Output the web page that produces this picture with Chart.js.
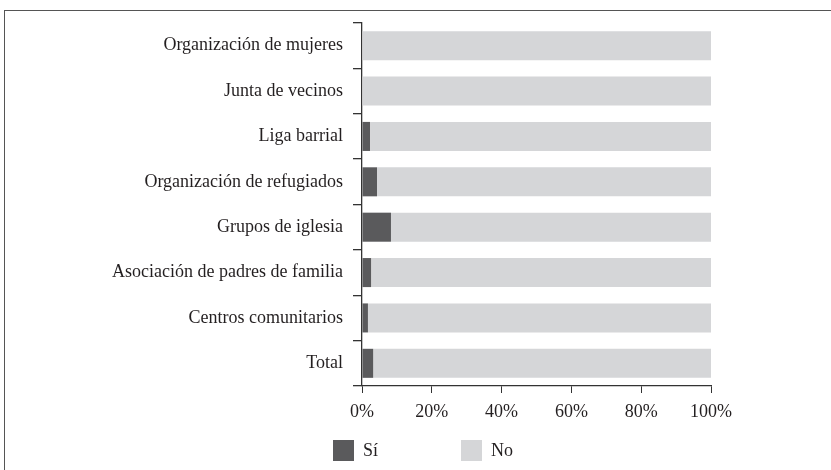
<!DOCTYPE html>
<html>
<head>
<meta charset="utf-8">
<script src="https://cdn.jsdelivr.net/npm/chart.js@4.4.1/dist/chart.umd.min.js"></script>
<style>
    body { margin: 0; background: #fff; }
    #wrap { position: relative; width: 831px; height: 470px; overflow: hidden; }
    #frame { position: absolute; left: 4px; top: 10px; width: 900px; height: 500px;
             border-top: 1.5px solid #555; border-left: 1.5px solid #555; }
    #chart { position: absolute; left: 0; top: 0; }
    .leg { position: absolute; top: 440px; height: 21px; font: 18px "Liberation Serif", serif; color: #231f20; }
    .sw { position: absolute; width: 21px; height: 21px; }
    .lt { position: absolute; line-height: 21px; white-space: nowrap; }
</style>
</head>
<body>
<div id="wrap">
    <div id="frame"></div>
    <canvas id="chart" width="831" height="470"></canvas>
    <div id="legend"></div>
</div>
<script>
const categories = [
    "Organización de mujeres",
    "Junta de vecinos",
    "Liga barrial",
    "Organización de refugiados",
    "Grupos de iglesia",
    "Asociación de padres de familia",
    "Centros comunitarios",
    "Total"
];
const siValues = [0, 0, 2.3, 4.3, 8.3, 2.6, 1.7, 3.2];
const noValues = [100, 100, 97.7, 95.7, 91.7, 97.4, 98.3, 96.8];
const xTicks = [0, 20, 40, 60, 80, 100];
const seriesNames = ["Sí", "No"];
const seriesColors = ["#5a5a5c", "#d5d6d8"];

const textColor = "#231f20";
const axisColor = "#333";
const font = { family: "'Liberation Serif', serif", size: 18 };

new Chart(document.getElementById("chart"), {
    type: 'bar',
    data: {
        labels: categories,
        datasets: [
            { label: seriesNames[0], data: siValues, backgroundColor: seriesColors[0] },
            { label: seriesNames[1], data: noValues, backgroundColor: seriesColors[1] }
        ]
    },
    options: {
        indexAxis: 'y',
        responsive: false,
        animation: false,
        datasets: { bar: { categoryPercentage: 1, barPercentage: 0.64 } },
        layout: { padding: { top: 23, right: 120, bottom: 44, left: 0 } },
        plugins: { legend: { display: false }, tooltip: { enabled: false } },
        scales: {
            x: {
                stacked: true,
                min: 0,
                max: 100,
                afterBuildTicks: s => { s.ticks = xTicks.map(v => ({ value: v })); },
                afterFit: s => { s.height = 40; },
                ticks: { callback: v => v + '%', color: textColor, font: font, padding: 8, maxRotation: 0 },
                grid: { drawOnChartArea: false, drawTicks: true, tickLength: 7, color: axisColor, lineWidth: 1 },
                border: { color: axisColor, width: 1.3 }
            },
            y: {
                stacked: true,
                afterFit: s => { s.width = 362; },
                ticks: { color: textColor, font: font, padding: 10 },
                grid: { drawOnChartArea: false, drawTicks: true, tickLength: 9, color: axisColor, lineWidth: 1.3, offset: true },
                border: { color: axisColor, width: 1.3 }
            }
        }
    }
});

// legend
const legendPos = [333, 461];
const legendEl = document.getElementById("legend");
seriesNames.forEach((name, i) => {
    const item = document.createElement("div");
    item.className = "leg";
    item.style.left = legendPos[i] + "px";
    item.innerHTML = '<span class="sw" style="left:0;background:' + seriesColors[i] + '"></span>' +
                     '<span class="lt" style="left:30px">' + name + '</span>';
    legendEl.appendChild(item);
});
</script>
</body>
</html>
